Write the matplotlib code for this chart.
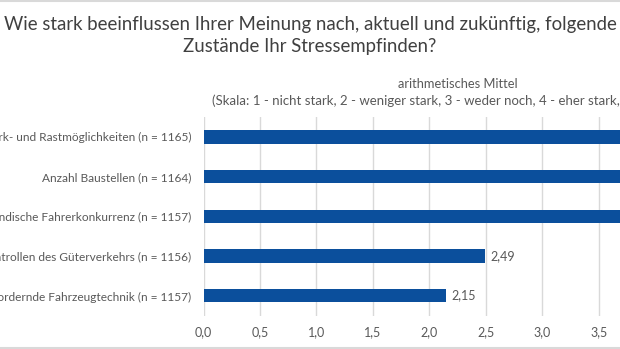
import matplotlib
matplotlib.use("Agg")
import matplotlib.pyplot as plt
from matplotlib.lines import Line2D

categories = [
    "Fehlende Park- und Rastmöglichkeiten (n = 1165)",
    "Anzahl Baustellen (n = 1164)",
    "Ausländische Fahrerkonkurrenz (n = 1157)",
    "Kontrollen des Güterverkehrs (n = 1156)",
    "Überfordernde Fahrzeugtechnik (n = 1157)",
]
values = [4.05, 3.92, 3.80, 2.49, 2.15]
xticks = [0.0, 0.5, 1.0, 1.5, 2.0, 2.5, 3.0, 3.5, 4.0, 4.5]

title = "Wie stark beeinflussen Ihrer Meinung nach, aktuell und zukünftig, folgende\nZustände Ihr Stressempfinden?"
subtitle1 = "arithmetisches Mittel"
subtitle2 = "(Skala: 1 - nicht stark, 2 - weniger stark, 3 - weder noch, 4 - eher stark, 5 - sehr stark)"

plt.rcParams['font.family'] = ['Lato', 'DejaVu Sans']
W, H = 620, 349
fig = plt.figure(figsize=(W/100, H/100), dpi=100)

x0 = 203.5
scale = 112.9
xmax = 4.5
top, bottom = 117, 315.5
ax = fig.add_axes([x0/W, 1 - bottom/H, xmax*scale/W, (bottom-top)/H])

bar_color = "#0B4F9C"
text_color = "#595959"
ypos = list(range(len(categories)))
ax.barh(ypos, values, height=0.34, color=bar_color, zorder=3)
ax.set_ylim(len(categories) - 0.5, -0.5)
ax.set_xlim(0, xmax)
ax.set_yticks(ypos)
ax.set_yticklabels(categories, fontsize=8.6, color=text_color)
ax.set_xticks(xticks)
ax.set_xticklabels([f"{t:.1f}".replace(".", ",") for t in xticks], fontsize=9, color=text_color)
ax.tick_params(axis='both', length=0)
ax.tick_params(axis='y', pad=9)
ax.tick_params(axis='x', pad=8)
ax.grid(axis='x', color="#D9D9D9", linewidth=1, zorder=0)
for s in ax.spines.values():
    s.set_visible(False)

for y, v in zip(ypos, values):
    ax.text(v + 0.05, y, f"{v:.2f}".replace(".", ","), va='center', ha='left',
            fontsize=9, color=text_color)

cx = (x0 + xmax*scale/2) / W
fig.text(0.5, 1 - 35.5/H, title, ha='center', va='center', fontsize=13.4,
         color="#404040", linespacing=1.42)
fig.text(cx, 1 - 84/H, subtitle1, ha='center', va='center', fontsize=9.3, color=text_color)
fig.text(cx, 1 - 101/H, subtitle2, ha='center', va='center', fontsize=9.5, color=text_color)

fig.add_artist(Line2D([0, 1], [1 - 1/H, 1 - 1/H], color="#D9D9D9", linewidth=1.5))
fig.add_artist(Line2D([0, 1], [1 - 347.5/H, 1 - 347.5/H], color="#D9D9D9", linewidth=1.5))

fig.savefig("out.png", dpi=100)
